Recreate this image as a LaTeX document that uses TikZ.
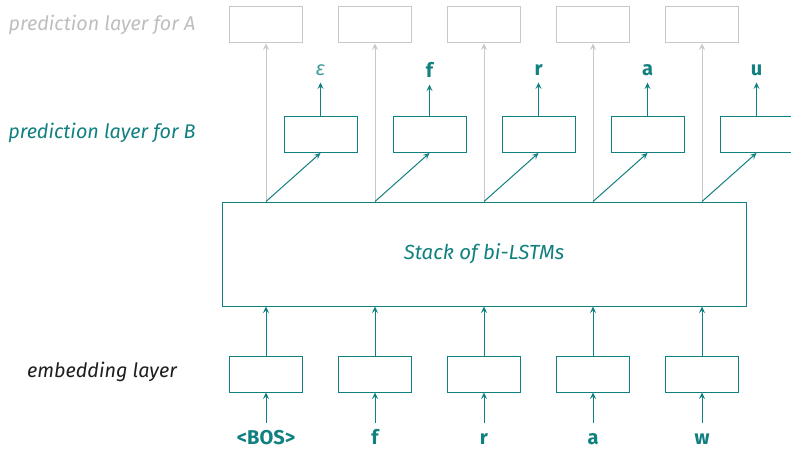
\documentclass[tikz,border=0pt]{standalone}
\usepackage{fontspec}
\setmainfont{Fira Sans}
\usetikzlibrary{arrows.meta}
\definecolor{teal}{RGB}{16,128,128}
\definecolor{softgray}{RGB}{200,200,200}
\definecolor{labelgray}{RGB}{190,190,190}
\definecolor{ink}{RGB}{30,30,30}
\begin{document}
\begin{tikzpicture}[x=1pt,y=-1pt,
  tip/.style={-{Stealth[length=6.5pt,width=6pt,inset=2.5pt]}},
  cell/.style={draw=teal,line width=1pt,minimum width=73pt,minimum height=36pt,inner sep=0pt},
  graycell/.style={cell,draw=softgray},
  tealline/.style={teal,line width=1pt,tip},
  grayline/.style={softgray,line width=1pt,tip},
  token/.style={text=teal,font=\fontsize{20}{24}\selectfont\bfseries,inner sep=0pt,outer sep=7pt,text height=14pt,text depth=1pt},
  outlabel/.style={text=teal,font=\fontsize{20}{24}\selectfont\bfseries,inner sep=0pt,outer sep=7pt},
  sidelabel/.style={font=\fontsize{19.8}{24}\selectfont\itshape,inner sep=0pt}
]
\useasboundingbox (0,0) rectangle (791,449);
\clip (0,0) rectangle (791,449);

% left-hand captions
\node[sidelabel,text=labelgray] (capA) at (102,25) {prediction layer for A};
\node[sidelabel,text=teal] (capB) at (102,133) {prediction layer for B};
\node[sidelabel,text=ink] (capE) at (102,372) {embedding layer};

% bi-LSTM stack
\node[draw=teal,line width=1pt,minimum width=524pt,minimum height=104pt,inner sep=0pt] (stack) at (484,254) {};
\node[text=teal,font=\fontsize{20.4}{24}\selectfont\itshape] (stacktext) at (484,254) {Stack of bi-LSTMs};

\foreach \i/\x/\tok/\out in {1/266/{<BOS>}/{\color{teal!80}\mdseries\itshape ε},2/375/f/f,3/484/r/r,4/593/a/a,5/702/w/u}{
  % prediction cells for A (grey) and B (teal)
  \node[graycell] (A\i) at (\x,25) {};
  \node[cell] (B\i) at (\x+54.5,134.5) {};
  \node[outlabel] (out\i) at (\x+54.5,70) {\out};
  % embedding cells and input tokens
  \node[cell] (emb\i) at (\x,374) {};
  \node[token,anchor=north] (tok\i) at (\x,423) {\tok};
  \coordinate (top\i) at (stack.north -| A\i);
  \coordinate (bot\i) at (stack.south -| A\i);
  \draw[grayline] (top\i) -- (A\i.south);
  \draw[tealline] (top\i) -- (B\i.south);
  \draw[tealline] (B\i.north) -- (out\i.south);
  \draw[tealline] (emb\i.north) -- (bot\i);
  \draw[tealline] (tok\i.north) -- (emb\i.south);
}
\end{tikzpicture}
\end{document}
